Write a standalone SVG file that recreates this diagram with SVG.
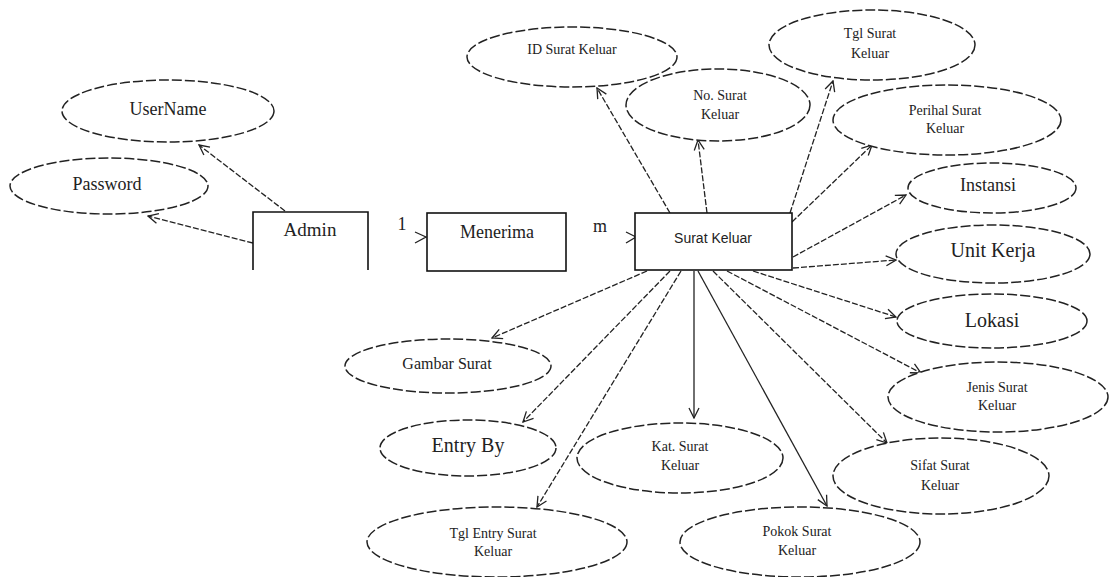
<svg xmlns="http://www.w3.org/2000/svg" width="1109" height="577" viewBox="0 0 1109 577">
<style>
.attr{fill:#fff;stroke:#222;stroke-width:1.5;stroke-dasharray:10 3}
.box{fill:#fff;stroke:#111;stroke-width:1.6}
.ln{fill:none;stroke:#222;stroke-width:1.3;stroke-dasharray:6 2}
.solid{fill:none;stroke:#222;stroke-width:1.3}
.t{font-family:"Liberation Serif",serif;fill:#222;text-anchor:middle;dominant-baseline:middle}
.s{font-family:"Liberation Sans",sans-serif;fill:#222;text-anchor:middle;dominant-baseline:middle}
.sm{font-size:14px}
</style>
<defs>
<marker id="arr" viewBox="0 0 12 12" refX="11" refY="6" markerWidth="12" markerHeight="12" markerUnits="userSpaceOnUse" orient="auto">
<path d="M1,1 L11,6 L1,11" fill="none" stroke="#222" stroke-width="1.3"/>
</marker>
</defs>
<rect width="1109" height="577" fill="#fff"/>
<g id="connectors">
<line class="ln" x1="285" y1="211" x2="199" y2="145" marker-end="url(#arr)"/>
<line class="ln" x1="253" y1="243" x2="148" y2="216" marker-end="url(#arr)"/>
<path class="solid" d="M415,232 L426,237 L415,243"/>
<path class="solid" d="M626,232 L636,237 L626,243"/>
<line class="ln" x1="670" y1="213" x2="597" y2="88" marker-end="url(#arr)"/>
<line class="ln" x1="707" y1="213" x2="698" y2="140" marker-end="url(#arr)"/>
<line class="ln" x1="790" y1="213" x2="833" y2="81" marker-end="url(#arr)"/>
<line class="ln" x1="792" y1="222" x2="872" y2="145" marker-end="url(#arr)"/>
<line class="ln" x1="793" y1="257" x2="906" y2="195" marker-end="url(#arr)"/>
<line class="ln" x1="793" y1="268" x2="896" y2="260" marker-end="url(#arr)"/>
<line class="ln" x1="753" y1="271" x2="896" y2="317" marker-end="url(#arr)"/>
<line class="ln" x1="727" y1="271" x2="921" y2="373" marker-end="url(#arr)"/>
<line class="ln" x1="713" y1="271" x2="887" y2="443" marker-end="url(#arr)"/>
<line class="solid" x1="698" y1="271" x2="827" y2="506" marker-end="url(#arr)"/>
<line class="solid" x1="694" y1="271" x2="694" y2="418" marker-end="url(#arr)"/>
<line class="ln" x1="647" y1="271" x2="492" y2="338" marker-end="url(#arr)"/>
<line class="ln" x1="670" y1="271" x2="523" y2="422" marker-end="url(#arr)"/>
<line class="ln" x1="681" y1="271" x2="537" y2="507" marker-end="url(#arr)"/>
<text class="t" x="402" y="226" font-size="18">1</text>
<text class="t" x="600" y="228" font-size="18">m</text>
</g>
<g id="admin">
<path class="box" d="M253,270 L253,212 L368,212 L368,270"/>
<text class="t" x="310" y="232" font-size="19">Admin</text>
</g>
<g id="menerima">
<rect class="box" x="427" y="213" width="139" height="58"/>
<text class="t" x="497" y="234" font-size="18">Menerima</text>
</g>
<g id="surat-keluar">
<rect class="box" x="635" y="213" width="157" height="57"/>
<text class="s" x="713" y="239" font-size="14">Surat Keluar</text>
</g>
<g id="username">
<ellipse class="attr" cx="168" cy="111" rx="106" ry="31"/>
<text class="t" x="168" y="111" font-size="18">UserName</text>
</g>
<g id="password">
<ellipse class="attr" cx="109" cy="186" rx="99" ry="28"/>
<text class="t" x="107" y="186" font-size="18">Password</text>
</g>
<g id="id-surat-keluar">
<ellipse class="attr" cx="572" cy="57" rx="105" ry="30"/>
<text class="t sm" x="572" y="51">ID Surat Keluar</text>
</g>
<g id="no-surat-keluar">
<ellipse class="attr" cx="718" cy="105" rx="92" ry="36"/>
<text class="t sm" x="720" y="97">No. Surat</text>
<text class="t sm" x="720" y="116">Keluar</text>
</g>
<g id="tgl-surat-keluar">
<ellipse class="attr" cx="872" cy="45" rx="103" ry="35"/>
<text class="t sm" x="870" y="35">Tgl Surat</text>
<text class="t sm" x="870" y="55">Keluar</text>
</g>
<g id="perihal-surat-keluar">
<ellipse class="attr" cx="947" cy="120" rx="114" ry="35"/>
<text class="t sm" x="945" y="112">Perihal Surat</text>
<text class="t sm" x="945" y="130">Keluar</text>
</g>
<g id="instansi">
<ellipse class="attr" cx="992" cy="188" rx="84" ry="25"/>
<text class="t" x="988" y="187" font-size="18">Instansi</text>
</g>
<g id="unit-kerja">
<ellipse class="attr" cx="993" cy="254" rx="97" ry="29"/>
<text class="t" x="993" y="252" font-size="20">Unit Kerja</text>
</g>
<g id="lokasi">
<ellipse class="attr" cx="992" cy="321" rx="95" ry="27"/>
<text class="t" x="992" y="322" font-size="20">Lokasi</text>
</g>
<g id="jenis-surat-keluar">
<ellipse class="attr" cx="998" cy="397" rx="110" ry="35"/>
<text class="t sm" x="997" y="389">Jenis Surat</text>
<text class="t sm" x="997" y="407">Keluar</text>
</g>
<g id="sifat-surat-keluar">
<ellipse class="attr" cx="941" cy="476" rx="108" ry="38"/>
<text class="t sm" x="940" y="467">Sifat Surat</text>
<text class="t sm" x="940" y="487">Keluar</text>
</g>
<g id="pokok-surat-keluar">
<ellipse class="attr" cx="800" cy="542" rx="120" ry="35"/>
<text class="t sm" x="797" y="533">Pokok Surat</text>
<text class="t sm" x="797" y="552">Keluar</text>
</g>
<g id="kat-surat-keluar">
<ellipse class="attr" cx="680" cy="458" rx="103" ry="35"/>
<text class="t sm" x="680" y="448">Kat. Surat</text>
<text class="t sm" x="680" y="467">Keluar</text>
</g>
<g id="gambar-surat">
<ellipse class="attr" cx="448" cy="366" rx="103" ry="27"/>
<text class="t" x="447" y="365" font-size="16">Gambar Surat</text>
</g>
<g id="entry-by">
<ellipse class="attr" cx="468" cy="448" rx="88" ry="28"/>
<text class="t" x="468" y="447" font-size="20">Entry By</text>
</g>
<g id="tgl-entry-surat-keluar">
<ellipse class="attr" cx="497" cy="542" rx="130" ry="35"/>
<text class="t sm" x="493" y="535">Tgl Entry Surat</text>
<text class="t sm" x="493" y="553">Keluar</text>
</g>
</svg>
